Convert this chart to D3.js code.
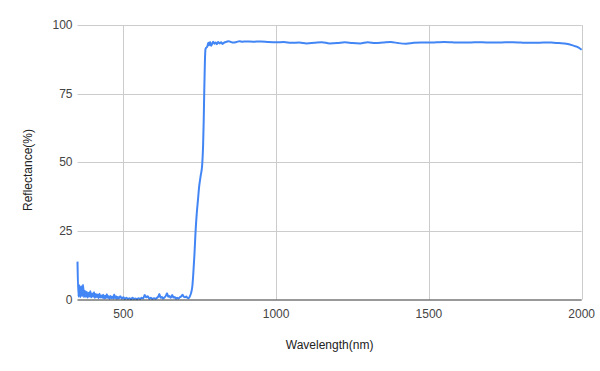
<!DOCTYPE html>
<html><head><meta charset="utf-8">
<script src="https://cdn.jsdelivr.net/npm/d3@7"></script>
<style>body{margin:0;background:#fff}svg{display:block}text{font-family:Arial,"Liberation Sans",sans-serif}</style>
</head><body>
<script>
const wavelength = [350,353,356,359,362,365,368,371,374,377,380,383,386,389,392,395,398,401,404,407,410,413,416,419,422,425,428,431,434,437,440,443,446,449,452,455,458,461,464,467,470,473,476,479,482,485,490,495,500,505,510,515,520,525,530,535,540,545,550,555,560,565,570,575,580,585,590,595,600,605,610,615,618,622,626,630,635,640,643,647,651,655,660,664,668,672,676,680,685,690,694,698,702,706,710,714,718,722,726,729,733,736,740,744,748,753,758,761,763,765,767,769,772,775,778,781,784,787,790,794,798,802,806,810,815,820,825,830,838,845,852,860,870,880,890,900,925,950,975,1000,1025,1050,1075,1100,1125,1150,1175,1200,1225,1250,1275,1300,1325,1350,1375,1400,1425,1450,1475,1500,1525,1550,1575,1600,1625,1650,1675,1700,1725,1750,1775,1800,1825,1850,1875,1900,1925,1950,1975,1990,2000];
const reflectance = [13.8,1.0,5.2,0.8,4.8,1.2,5.4,0.9,3.2,1.0,2.8,0.7,2.5,1.1,3.0,0.8,2.2,1.0,2.6,0.6,2.0,0.9,1.8,0.5,2.1,0.7,1.5,0.6,1.7,0.4,1.4,0.5,1.9,0.6,1.2,0.3,1.3,0.5,1.0,0.4,1.8,0.5,1.2,0.3,0.9,0.4,1.2,0.3,0.8,0.2,0.6,0.2,0.5,0.1,0.6,0.2,0.4,0.1,0.5,0.2,0.6,0.4,1.6,0.8,1.2,0.3,0.6,0.2,0.5,0.3,0.6,1.2,2.0,0.6,0.9,0.4,0.8,1.5,2.3,1.0,1.3,0.6,1.6,0.7,0.9,0.3,0.6,0.4,0.8,1.2,1.7,1.0,0.8,1.1,0.6,0.5,1.2,2.5,5.0,9.5,17,24,31,36,41,45,49,56,65,77,87,91.3,91.8,92.2,93.5,92.6,93.8,92.4,93.0,93.9,93.2,93.6,93.0,93.8,93.3,93.7,93.1,93.6,93.9,94.1,93.8,93.6,93.8,94.1,93.9,94.0,93.9,94.0,93.8,93.7,93.8,93.5,93.6,93.3,93.5,93.7,93.3,93.4,93.7,93.4,93.3,93.7,93.4,93.6,93.8,93.4,93.2,93.5,93.6,93.6,93.7,93.8,93.7,93.6,93.6,93.7,93.7,93.6,93.6,93.7,93.7,93.6,93.5,93.5,93.6,93.6,93.4,93.2,92.4,91.8,91.0];
const xTicks = [500,1000,1500,2000];
const yTicks = [0,25,50,75,100];
const xTitle = "Wavelength(nm)";
const yTitle = "Reflectance(%)";

const W = 600, H = 371;
const m = {left:77.5, right:18.3, top:25, bottom:71.5};
const svg = d3.select("body").append("svg").attr("width",W).attr("height",H);
const x = d3.scaleLinear().domain([350,2000]).range([m.left, W-m.right]);
const y = d3.scaleLinear().domain([0,100]).range([H-m.bottom, m.top]);

const g = svg.append("g");
// horizontal gridlines
g.selectAll(".hg").data(yTicks.filter(t=>t>0)).join("line")
  .attr("x1",x(350)).attr("x2",x(2000))
  .attr("y1",d=>Math.round(y(d))+0.5).attr("y2",d=>Math.round(y(d))+0.5)
  .attr("stroke","#cccccc").attr("stroke-width",1);
// vertical gridlines
g.selectAll(".vg").data(xTicks).join("line")
  .attr("x1",d=>Math.round(x(d))+0.5).attr("x2",d=>Math.round(x(d))+0.5)
  .attr("y1",y(100)).attr("y2",y(0))
  .attr("stroke","#cccccc").attr("stroke-width",1);

// y tick labels
g.selectAll(".yl").data(yTicks).join("text")
  .attr("x",x(350)-5).attr("y",d=>y(d)).attr("dy","0.35em")
  .attr("text-anchor","end").attr("font-size",12).attr("fill","#444")
  .text(d=>d);
// x tick labels
g.selectAll(".xl").data(xTicks).join("text")
  .attr("x",d=>x(d)).attr("y",y(0)+18)
  .attr("text-anchor","middle").attr("font-size",12).attr("fill","#444")
  .text(d=>d);

// line
const pts = wavelength.map((w,i)=>[w,reflectance[i]]);
const line = d3.line().x(d=>x(d[0])).y(d=>y(d[1])).curve(d3.curveMonotoneX);
svg.append("path").datum(pts).attr("d",line)
  .attr("fill","none").attr("stroke","#4285f4").attr("stroke-width",2)
  .attr("stroke-linejoin","round");

// baseline
svg.append("line").attr("x1",x(350)).attr("x2",x(2000))
  .attr("y1",Math.round(y(0))).attr("y2",Math.round(y(0)))
  .attr("stroke","#333").attr("stroke-width",1);

// titles
svg.append("text").attr("x",(x(350)+x(2000))/2).attr("y",349)
  .attr("text-anchor","middle").attr("font-size",12).attr("fill","#222").text(xTitle);
svg.append("text").attr("transform","translate(32,170) rotate(-90)")
  .attr("text-anchor","middle").attr("font-size",12).attr("fill","#222").text(yTitle);
</script>
</body></html>
